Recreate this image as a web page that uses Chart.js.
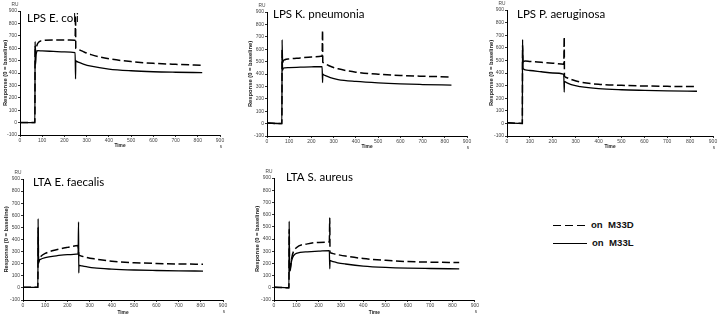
<!DOCTYPE html>
<html>
<head>
<meta charset="utf-8">
<script src="https://cdn.jsdelivr.net/npm/chart.js@4"></script>
<style>
body { margin: 0; background: #fff; width: 720px; height: 319px; position: relative; overflow: hidden; }
canvas { position: absolute; }
.leg { position: absolute; font: bold 9.6px "Liberation Sans", Arial, sans-serif; color: #111; line-height: 12px; white-space: pre; }
.dash { position: absolute; height: 1.3px; background: repeating-linear-gradient(to right, #000 0 8px, transparent 8px 12px); }
.solid { position: absolute; height: 1.3px; background: #000; }
</style>
</head>
<body>
<canvas id="c1" width="240" height="160" style="left:0;top:0"></canvas>
<canvas id="c2" width="240" height="160" style="left:240px;top:0"></canvas>
<canvas id="c3" width="240" height="160" style="left:480px;top:0"></canvas>
<canvas id="c4" width="240" height="159" style="left:0;top:160px"></canvas>
<canvas id="c5" width="240" height="159" style="left:240px;top:160px"></canvas>

<div class="dash" style="left:553px;top:224.5px;width:33px"></div>
<div class="leg" style="left:591px;top:219px">on  M33D</div>
<div class="solid" style="left:553px;top:242.5px;width:34px"></div>
<div class="leg" style="left:592px;top:237px">on  M33L</div>

<script>
// time points (s) and responses (RU)
const tEcoli = [0, 67, 68, 70, 73, 80, 100, 150, 200, 248, 250, 251, 252, 255, 265, 285, 320, 400, 500, 600, 700, 820];
const ecoliM33D = [0, 0, 620, 570, 600, 640, 662, 667, 667, 665, 865, 600, 598, 595, 588, 572, 548, 515, 492, 478, 470, 463];
const ecoliM33L = [0, 0, 655, 470, 555, 580, 578, 574, 570, 565, 353, 500, 498, 494, 486, 472, 455, 432, 418, 410, 406, 403];

const tKpn = [0, 67, 68, 70, 73, 80, 100, 150, 200, 248, 250, 251, 252, 255, 265, 285, 320, 400, 500, 600, 700, 830];
const kpnM33D = [5, 0, 600, 490, 505, 515, 522, 530, 538, 545, 753, 495, 493, 489, 480, 462, 442, 415, 398, 388, 382, 376];
const kpnM33L = [5, 0, 677, 430, 445, 450, 452, 455, 458, 460, 331, 400, 398, 394, 385, 370, 355, 340, 328, 320, 315, 310];

const tPae = [0, 67, 68, 70, 73, 80, 100, 150, 200, 248, 250, 251, 252, 255, 265, 285, 320, 400, 500, 600, 700, 830];
const paeM33D = [5, 0, 620, 470, 490, 496, 492, 485, 478, 470, 687, 374, 372, 368, 360, 346, 328, 310, 302, 297, 294, 292];
const paeM33L = [5, 0, 666, 440, 430, 425, 420, 410, 400, 390, 249, 334, 332, 329, 320, 305, 292, 276, 267, 262, 258, 255];

const tEfa = [0, 67, 68, 70, 73, 80, 100, 150, 200, 248, 250, 251, 252, 255, 265, 285, 320, 400, 500, 600, 700, 810];
const efaM33D = [5, 5, 500, 215, 240, 260, 285, 315, 335, 350, 300, 275, 270, 268, 262, 252, 240, 220, 208, 202, 198, 195];
const efaM33L = [5, 5, 572, 202, 225, 237, 250, 265, 275, 281, 545, 123, 188, 186, 182, 175, 165, 155, 148, 144, 141, 139];

const tSau = [0, 67, 68, 70, 73, 80, 100, 150, 200, 248, 250, 251, 252, 255, 265, 285, 320, 400, 500, 600, 700, 830];
const sauM33D = [5, 0, 480, 140, 150, 250, 328, 360, 372, 376, 573, 288, 287, 285, 280, 272, 260, 240, 225, 215, 210, 207];
const sauM33L = [5, 0, 546, 134, 160, 230, 282, 295, 300, 305, 156, 225, 223, 220, 214, 205, 195, 178, 167, 161, 158, 155];

const panelTitles = ['LPS E. coli', 'LPS K. pneumonia', 'LPS P. aeruginosa', 'LTA E. faecalis', 'LTA S. aureus'];

// layout of each panel: plot area edges in canvas pixels, title offsets
const panels = [
  { id: 'c1', t: tEcoli, d: ecoliM33D, l: ecoliM33L, left: 20, right: 220, top: 11, bottom: 135, yTitleX: 5, timeY: 146, dx: 7, dy: 2 },
  { id: 'c2', t: tKpn, d: kpnM33D, l: kpnM33L, left: 27, right: 227, top: 12, bottom: 136, yTitleX: 10.5, timeY: 147, dx: 6, dy: -3 },
  { id: 'c3', t: tPae, d: paeM33D, l: paeM33L, left: 27, right: 233, top: 10, bottom: 136, yTitleX: 11.5, timeY: 147, dx: 10, dy: -1 },
  { id: 'c4', t: tEfa, d: efaM33D, l: efaM33L, left: 23, right: 223, top: 19, bottom: 140, yTitleX: 6, timeY: 153, dx: 10, dy: -2 },
  { id: 'c5', t: tSau, d: sauM33D, l: sauM33L, left: 34, right: 235, top: 18, bottom: 140, yTitleX: 17, timeY: 153, dx: 12, dy: -6 }
];

const panelText = {
  id: 'panelText',
  afterDraw(chart, args, o) {
    const { ctx, chartArea: a } = chart;
    ctx.save();
    ctx.fillStyle = '#000';
    ctx.font = '11.5px Lato';
    ctx.textBaseline = 'top';
    ctx.fillText(o.label, a.left + o.dx, a.top + o.dy);
    ctx.font = '4.8px "Liberation Sans"';
    ctx.fillStyle = '#444';
    ctx.textAlign = 'center';
    ctx.textBaseline = 'middle';
    ctx.fillText('RU', a.left - 5, a.top - 6);
    ctx.fillText('s', a.right + 1, a.bottom + 12);
    ctx.restore();
  }
};

const tickFont = { family: '"Liberation Sans", Arial', size: 5 };

panels.forEach(function (p, i) {
  const canvas = document.getElementById(p.id);
  const W = canvas.width, H = canvas.height;
  const pts = arr => arr.map((v, k) => ({ x: p.t[k], y: v }));
  const timeLh = 4.8 * 1.2;
  const yLh = 5.8 * 1.2;

  new Chart(canvas, {
    type: 'line',
    data: {
      datasets: [
        { label: 'on M33D', data: pts(p.d), borderColor: '#000', borderWidth: 1.5, borderDash: [8, 3.5], pointRadius: 0, cubicInterpolationMode: 'monotone' },
        { label: 'on M33L', data: pts(p.l), borderColor: '#000', borderWidth: 1.3, pointRadius: 0, cubicInterpolationMode: 'monotone' }
      ]
    },
    options: {
      responsive: false,
      animation: false,
      events: [],
      layout: { padding: { left: 0, top: p.top, right: W - p.right, bottom: 0 } },
      plugins: {
        legend: { display: false },
        tooltip: { enabled: false },
        panelText: { label: panelTitles[i], dx: p.dx, dy: p.dy }
      },
      scales: {
        x: {
          type: 'linear', min: 0, max: 900,
          ticks: { stepSize: 100, font: tickFont, color: '#444', padding: 1, maxRotation: 0 },
          grid: { drawOnChartArea: false, tickLength: 2, color: '#000', lineWidth: 0.8 },
          border: { color: '#000', width: 1 },
          title: { display: true, text: 'Time', color: '#222', font: { family: '"Liberation Sans", Arial', size: 4.8, weight: 'bold' },
                   padding: { top: 0, bottom: (H - p.timeY) - timeLh / 2 } },
          afterFit: s => { s.height = H - p.bottom; }
        },
        y: {
          min: -100, max: 900,
          ticks: { stepSize: 100, font: tickFont, color: '#444', padding: 1 },
          grid: { drawOnChartArea: false, tickLength: 2, color: '#000', lineWidth: 0.8 },
          border: { color: '#000', width: 1 },
          title: { display: true, text: 'Response (0 = baseline)', color: '#222', font: { family: '"Liberation Sans", Arial', size: 5.8, weight: 'bold' },
                   padding: { top: p.yTitleX - yLh / 2, bottom: 0 } },
          afterFit: s => { s.width = p.left; }
        }
      }
    },
    plugins: [panelText]
  });
});
</script>
</body>
</html>
